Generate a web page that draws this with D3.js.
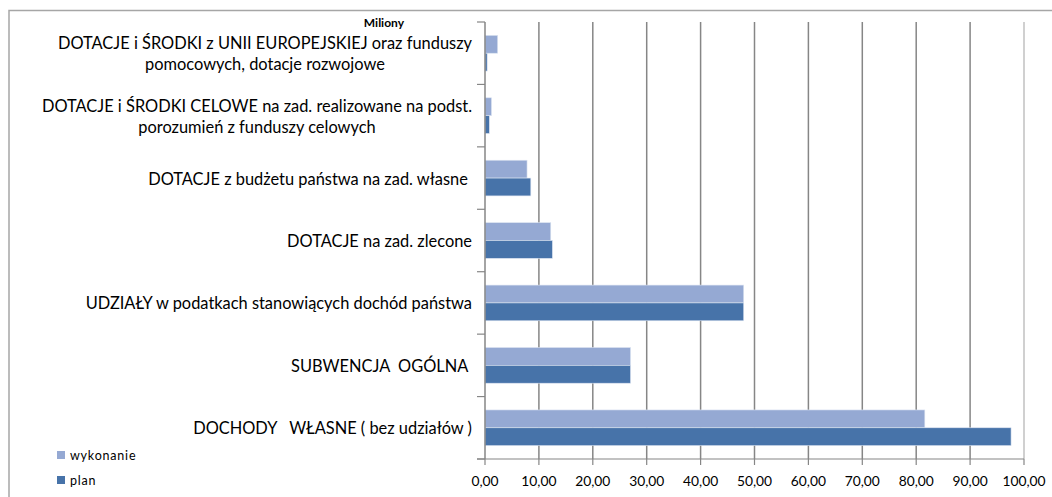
<!DOCTYPE html>
<html>
<head>
<meta charset="utf-8">
<script src="https://cdn.jsdelivr.net/npm/d3@7"></script>
<style>
  body { margin: 0; background: #fff; }
  svg text { font-family: Lato, "Open Sans", sans-serif; fill: #000; white-space: pre; }
</style>
</head>
<body>
<svg width="1052" height="497"></svg>
<script>
// categories, top to bottom (each one may be split in lines)
var categories = [
  ["DOTACJE i ŚRODKI z UNII EUROPEJSKIEJ oraz funduszy", "pomocowych, dotacje rozwojowe"],
  ["DOTACJE i ŚRODKI CELOWE na zad. realizowane na podst.", "porozumień z funduszy celowych"],
  ["DOTACJE z budżetu państwa na zad. własne "],
  ["DOTACJE na zad. zlecone"],
  ["UDZIAŁY w podatkach stanowiących dochód państwa"],
  ["SUBWENCJA  OGÓLNA "],
  ["DOCHODY   WŁASNE ( bez udziałów )"]
];
var series = ["wykonanie", "plan"];
var wykonanie = [2.35, 1.2, 7.8, 12.2, 48.0, 27.0, 81.6];
var plan = [0.4, 0.8, 8.5, 12.5, 48.0, 27.0, 97.6];
var ticks = [0, 10, 20, 30, 40, 50, 60, 70, 80, 90, 100];
var colors = { wykonanie: "#95a9d3", plan: "#4773a9" };

var svg = d3.select("svg");

// chart frame (only top and left edges are in the picture)
svg.append("path")
  .attr("d", "M9,497V10.5H1052")
  .attr("fill", "none")
  .attr("stroke", "#a6a6a6")
  .attr("stroke-width", 1.5);

var x = d3.scaleLinear().domain([0, 100]).range([485, 1024]);
var y = d3.scaleBand().domain(d3.range(categories.length)).range([22, 459]);
var yIn = d3.scaleBand().domain(series).range([0, y.bandwidth()]).paddingOuter(0.75);

// grid lines
svg.append("g")
  .selectAll("line")
  .data(ticks.slice(1))
  .join("line")
  .attr("x1", d => x(d)).attr("x2", d => x(d))
  .attr("y1", 22).attr("y2", 459)
  .attr("stroke", d => d == 100 ? "#c0c0c0" : "#868686")
  .attr("stroke-width", 1.5);

// bars
var rows = categories.map((c, i) => ({ i: i, wykonanie: wykonanie[i], plan: plan[i] }));
var g = svg.append("g")
  .selectAll("g")
  .data(rows)
  .join("g")
  .attr("transform", d => "translate(0," + y(d.i) + ")");

g.selectAll("rect")
  .data(d => series.map(s => ({ s: s, v: d[s] })))
  .join("rect")
  .attr("x", x(0))
  .attr("y", d => yIn(d.s))
  .attr("width", d => x(d.v) - x(0))
  .attr("height", yIn.bandwidth())
  .attr("fill", d => colors[d.s])
  .attr("stroke", "#dbe3f0")
  .attr("stroke-width", 0.6);

// category axis
svg.append("line")
  .attr("x1", 485).attr("x2", 485)
  .attr("y1", 22).attr("y2", 459)
  .attr("stroke", "#868686").attr("stroke-width", 1.5);

svg.append("g")
  .selectAll("line")
  .data(d3.range(categories.length + 1))
  .join("line")
  .attr("x1", 477).attr("x2", 485)
  .attr("y1", d => 22 + d * y.step()).attr("y2", d => 22 + d * y.step())
  .attr("stroke", "#868686").attr("stroke-width", 1.2);

// category labels
var labels = svg.append("g")
  .selectAll("text")
  .data(categories)
  .join("text")
  .attr("font-size", 16.4)
  .attr("text-anchor", "middle");

labels.each(function (lines, i) {
  var t = d3.select(this);
  var n = lines.length;
  lines.forEach((ln, k) => {
    t.append("tspan")
      .attr("y", y(i) + y.bandwidth() / 2 + 6.5 + (k - (n - 1) / 2) * 21)
      .text(ln);
  });
  // widest line ends at the same right edge, others centred on it
  var w = d3.max(t.selectAll("tspan").nodes(), s => s.getComputedTextLength());
  t.selectAll("tspan").attr("x", 472 - w / 2);
});

// value axis
svg.append("line")
  .attr("x1", 477).attr("x2", 1024)
  .attr("y1", 459).attr("y2", 459)
  .attr("stroke", "#868686").attr("stroke-width", 1.2);

svg.append("g")
  .selectAll("line")
  .data(ticks)
  .join("line")
  .attr("x1", d => x(d)).attr("x2", d => x(d))
  .attr("y1", 459).attr("y2", 465)
  .attr("stroke", "#868686").attr("stroke-width", 1.2);

svg.append("g")
  .selectAll("text")
  .data(ticks)
  .join("text")
  .attr("x", d => x(d))
  .attr("y", 486)
  .attr("font-size", 13.8)
  .attr("text-anchor", "middle")
  .text(d => d3.format(".2f")(d).replace(".", ","));

// units
svg.append("text")
  .attr("x", 404).attr("y", 27)
  .attr("text-anchor", "end")
  .attr("font-size", 12).attr("font-weight", "bold")
  .text("Miliony");

// legend
var leg = svg.append("g")
  .selectAll("g")
  .data(series)
  .join("g")
  .attr("transform", (d, i) => "translate(57," + (451 + i * 25) + ")");
leg.append("rect").attr("width", 8).attr("height", 8).attr("fill", d => colors[d]);
leg.append("text")
  .attr("x", 13).attr("y", 8.5)
  .attr("font-size", 12.5)
  .attr("letter-spacing", 0.8)
  .text(d => d);
</script>
</body>
</html>
